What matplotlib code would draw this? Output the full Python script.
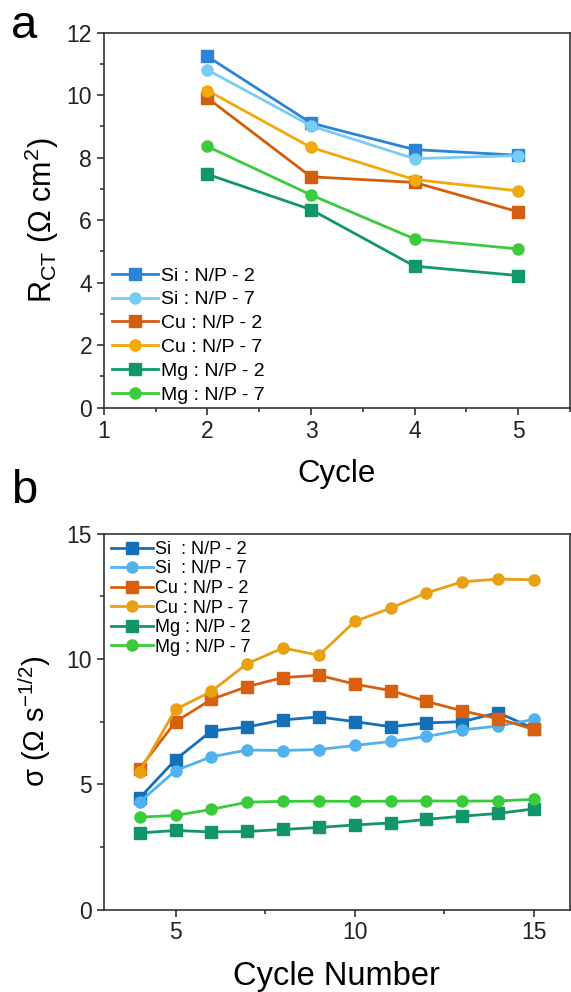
import matplotlib
matplotlib.use("Agg")
from matplotlib import pyplot as plt
from matplotlib.ticker import MultipleLocator

plt.rcParams['font.family'] = ['Liberation Sans', 'DejaVu Sans']
plt.rcParams['mathtext.fontset'] = 'custom'
plt.rcParams['mathtext.rm'] = 'Liberation Sans'
plt.rcParams['mathtext.it'] = 'Liberation Sans'

# panel a: charge transfer resistance
cycle_a = [2, 3, 4, 5]
rct_si2 = [11.24, 9.11, 8.26, 8.08]
rct_si7 = [10.81, 9.02, 7.97, 8.07]
rct_cu2 = [9.91, 7.39, 7.21, 6.27]
rct_cu7 = [10.15, 8.33, 7.30, 6.94]
rct_mg2 = [7.47, 6.34, 4.53, 4.23]
rct_mg7 = [8.36, 6.81, 5.40, 5.08]

# panel b: Warburg coefficient
cycle_b = [4, 5, 6, 7, 8, 9, 10, 11, 12, 13, 14, 15]
sig_si2 = [4.46, 5.99, 7.13, 7.29, 7.57, 7.69, 7.50, 7.30, 7.45, 7.50, 7.86, 7.22]
sig_si7 = [4.30, 5.55, 6.10, 6.37, 6.35, 6.39, 6.55, 6.71, 6.91, 7.17, 7.33, 7.59]
sig_cu2 = [5.63, 7.50, 8.39, 8.90, 9.26, 9.35, 9.00, 8.74, 8.31, 7.93, 7.62, 7.19]
sig_cu7 = [5.51, 7.99, 8.71, 9.82, 10.44, 10.15, 11.50, 12.03, 12.64, 13.08, 13.19, 13.16]
sig_mg2 = [3.06, 3.16, 3.10, 3.12, 3.20, 3.28, 3.38, 3.46, 3.60, 3.73, 3.84, 4.02]
sig_mg7 = [3.69, 3.76, 4.00, 4.29, 4.32, 4.33, 4.32, 4.33, 4.34, 4.33, 4.34, 4.40]

fig = plt.figure(figsize=(5.71, 9.92), dpi=100)
ax1 = fig.add_axes([0.182, 0.589, 0.816, 0.378])
ax2 = fig.add_axes([0.182, 0.083, 0.816, 0.379])

def style(ax):
    for s in ax.spines.values():
        s.set_linewidth(1.2)
        s.set_color('#333333')
    ax.tick_params(which='both', direction='out', top=False, right=False,
                   labelsize=16.5, width=1.1, colors='#222222')
    ax.tick_params(which='major', length=5)
    ax.tick_params(which='minor', length=3)

kw = dict(lw=2, ms=8)
ax1.plot(cycle_a, rct_si2, 's-', color='#2b84d8', label='Si : N/P - 2', **kw)
ax1.plot(cycle_a, rct_si7, 'o-', color='#78ccf6', label='Si : N/P - 7', **kw)
ax1.plot(cycle_a, rct_cu2, 's-', color='#d35e10', label='Cu : N/P - 2', **kw)
ax1.plot(cycle_a, rct_cu7, 'o-', color='#f2a90c', label='Cu : N/P - 7', **kw)
ax1.plot(cycle_a, rct_mg2, 's-', color='#12966c', label='Mg : N/P - 2', **kw)
ax1.plot(cycle_a, rct_mg7, 'o-', color='#3ccb3c', label='Mg : N/P - 7', **kw)
ax1.set_xlim(1, 5.5)
ax1.set_ylim(0, 12)
ax1.xaxis.set_major_locator(MultipleLocator(1))
ax1.xaxis.set_minor_locator(MultipleLocator(0.5))
ax1.yaxis.set_major_locator(MultipleLocator(2))
ax1.yaxis.set_minor_locator(MultipleLocator(1))
style(ax1)
ax1.set_xlabel('Cycle', fontsize=22.5, labelpad=12)
ax1.set_ylabel(r'R$_{\rm CT}$ ($\Omega$ cm$^{2}$)', fontsize=22, labelpad=4)
ax1.legend(loc='lower left', bbox_to_anchor=(0.0, -0.01), frameon=False, fontsize=14,
           handlelength=2.4, handletextpad=0.15, labelspacing=0.32,
           borderpad=0.2, borderaxespad=0.2)

ax2.plot(cycle_b, sig_si2, 's-', color='#1670b8', label='Si  : N/P - 2', **kw)
ax2.plot(cycle_b, sig_si7, 'o-', color='#52b2ee', label='Si  : N/P - 7', **kw)
ax2.plot(cycle_b, sig_cu2, 's-', color='#d8600e', label='Cu : N/P - 2', **kw)
ax2.plot(cycle_b, sig_cu7, 'o-', color='#e9a012', label='Cu : N/P - 7', **kw)
ax2.plot(cycle_b, sig_mg2, 's-', color='#13956c', label='Mg : N/P - 2', **kw)
ax2.plot(cycle_b, sig_mg7, 'o-', color='#3acb3a', label='Mg : N/P - 7', **kw)
ax2.set_xlim(3, 16)
ax2.set_ylim(0, 15)
ax2.xaxis.set_major_locator(MultipleLocator(5))
ax2.xaxis.set_minor_locator(MultipleLocator(2.5))
ax2.yaxis.set_major_locator(MultipleLocator(5))
ax2.yaxis.set_minor_locator(MultipleLocator(2.5))
style(ax2)
ax2.set_xlabel('Cycle Number', fontsize=23.5, labelpad=12)
ax2.set_ylabel(r'$\sigma$ ($\Omega$ s$^{-1/2}$)', fontsize=21, labelpad=10)
ax2.legend(loc='upper left', frameon=False, fontsize=13,
           handlelength=2.3, handletextpad=0.15, labelspacing=0.14,
           borderpad=0.3, borderaxespad=0.1)

fig.text(0.02, 0.962, 'a', fontsize=34, va='baseline')
fig.text(0.02, 0.493, 'b', fontsize=34, va='baseline')

fig.savefig('out.png', dpi=100)
